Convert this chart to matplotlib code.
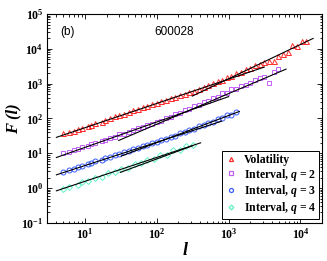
import numpy as np
import matplotlib
matplotlib.use('Agg')
import matplotlib.pyplot as plt

plt.rcParams['font.family'] = 'Liberation Serif'
plt.rcParams['mathtext.fontset'] = 'custom'
plt.rcParams['mathtext.rm'] = 'Liberation Serif:bold'
plt.rcParams['mathtext.it'] = 'Liberation Serif:italic:bold'
plt.rcParams['mathtext.bf'] = 'Liberation Serif:bold'

# scales l (shared by volatility and intervals q=2,3)
l = [5, 6, 7, 8, 9, 11, 12, 14, 17, 19, 22, 26, 30, 35, 41, 47, 55, 64, 74, 86,
     100, 116, 135, 157, 182, 211, 245, 285, 331, 385, 447, 519, 603, 700, 813,
     944, 1096, 1274, 1479, 1718, 1995, 2317, 2692, 3126, 3631, 4217, 4898,
     5689, 6607, 7674, 8913, 10351, 12023]
l_q4 = [5, 6, 8, 9, 11, 14, 17, 21, 26, 32, 40, 49, 60, 74, 91, 112, 138, 170,
        209, 257, 316]

F_vol = [38, 41.7, 43.6, 50.1, 53.7, 61.7, 66.1, 75.9, 81.3, 93.3, 100, 115,
         123, 138, 151, 172, 184, 209, 226, 257, 279, 316, 343, 389, 422, 479,
         519, 589, 631, 716, 794, 923, 1023, 1202, 1318, 1549, 1718, 1995, 2213,
         2600, 2851, 3350, 3715, 4315, 4365, 4571, 6310, 7244, 7943, 12589,
         12023, 17378, 16596]
F_q2 = [10.2, 10.7, 12.6, 13.2, 15.5, 16.2, 19.1, 20.0, 22.9, 24.5, 28.2, 30.2,
        34.7, 36.7, 42.2, 45.2, 51.9, 55.6, 63.1, 68.4, 77.6, 86.1, 102, 112,
        135, 146, 176, 193, 232, 251, 302, 327, 398, 427, 525, 556, 684, 724,
        851, 933, 1023, 1318, 1462, 1585, 1072, 2138, 2692]
F_q3 = [2.88, 3.31, 3.55, 4.07, 4.32, 5.01, 5.25, 6.10, 6.46, 7.41, 7.85, 9.12,
        9.66, 11.1, 11.7, 13.6, 14.3, 16.6, 17.6, 20.2, 21.6, 24.8, 26.3, 30.2,
        32.4, 37.2, 39.8, 47.3, 50.1, 60.3, 63.1, 75.9, 79.4, 96.6, 100, 122,
        126, 155]
F_q4 = [0.93, 1.07, 1.23, 1.45, 1.55, 2.00, 2.09, 2.63, 2.82, 3.55, 3.80, 4.90,
        5.13, 6.61, 6.76, 8.91, 9.12, 12.3, 12.6, 16.2, 17.4]

# power-law fits F = c * l^h over [l1, l2]
fit_l1 = [4, 312, 4, 29.5, 4, 32, 4, 31]
fit_l2 = [3140, 15000, 1000, 6300, 800, 1410, 407, 316]
fit_h = [0.698, 0.985, 0.73, 0.88, 0.67, 0.78, 0.687, 0.76]
fit_c = [10.9, 1.54, 2.75, 1.19, 0.95, 0.557, 0.322, 0.208]

xticks = [1e1, 1e2, 1e3, 1e4]
yticks = [1e-1, 1e0, 1e1, 1e2, 1e3, 1e4, 1e5]

fig = plt.figure(figsize=(3.27, 2.61), dpi=100)
ax = fig.add_axes([0.145, 0.146, 0.84, 0.80])

for i in range(len(fit_h)):
    xs = np.array([fit_l1[i], fit_l2[i]])
    ax.plot(xs, fit_c[i] * xs**fit_h[i], 'k-', lw=0.8, zorder=3)

ms = 3.6
mew = 0.7
ax.plot(l[:len(F_vol)], F_vol, '^', ms=ms, mew=mew, mfc='none', mec='#ff2a2a',
        label='Volatility', zorder=2)
ax.plot(l[:len(F_q2)], F_q2, 's', ms=ms - 0.4, mew=mew, mfc='none', mec='#c060f5',
        label=r'Interval, $q$ = 2', zorder=2)
ax.plot(l[:len(F_q3)], F_q3, 'o', ms=ms, mew=mew, mfc='none', mec='#3a5cff',
        label=r'Interval, $q$ = 3', zorder=2)
ax.plot(l_q4, F_q4, 'D', ms=ms - 0.6, mew=mew, mfc='none', mec='#5ff2c8',
        label=r'Interval, $q$ = 4', zorder=2)

ax.set_xscale('log')
ax.set_yscale('log')
ax.set_xticks(xticks)
ax.set_yticks(yticks)
ax.set_xlim(3, 2e4)
ax.set_ylim(0.1, 1e5)
ax.tick_params(which='both', direction='in', top=True, right=True, width=0.6)
ax.tick_params(which='major', length=3.5, labelsize=8.5, pad=3)
ax.tick_params(which='minor', length=1.8)
for s in ax.spines.values():
    s.set_linewidth(0.8)
for lab in ax.get_xticklabels() + ax.get_yticklabels():
    lab.set_fontweight('bold')

ax.set_xlabel('l', fontsize=13, style='italic', weight='bold', labelpad=0)
ax.set_ylabel('F (l)', fontsize=12, style='italic', weight='bold', labelpad=0)

ax.text(0.046, 0.915, '(b)', transform=ax.transAxes, fontsize=8.5,
        family='Liberation Sans', va='center')
ax.text(0.39, 0.915, '600028', transform=ax.transAxes, fontsize=8.5,
        family='Liberation Sans', va='center')

leg = ax.legend(loc='lower right', bbox_to_anchor=(0.99, 0.02), borderaxespad=0,
                markerscale=0.8, handlelength=1.0, handletextpad=0.6,
                labelspacing=0.05, borderpad=0.25, fancybox=False, framealpha=1,
                edgecolor='black', prop={'weight': 'bold', 'size': 8.5})
leg.get_frame().set_linewidth(0.7)
for h in leg.legend_handles:
    h.set_markeredgewidth(0.9)

fig.savefig('out.png', dpi=100)
